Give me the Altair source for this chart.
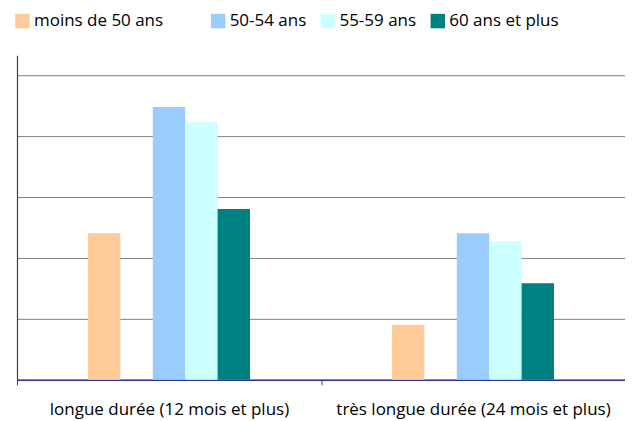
import altair as alt
import pandas as pd

groups = ["longue durée (12 mois et plus)", "très longue durée (24 mois et plus)"]
series = ["moins de 50 ans", " ", "50-54 ans", "55-59 ans", "60 ans et plus"]
colors = ["#FFCC99", "#FFFFFF", "#99CCFF", "#CCFFFF", "#008080"]
values = {
    "moins de 50 ans": [12.0, 4.5],
    " ": [0.0, 0.0],
    "50-54 ans": [22.35, 12.0],
    "55-59 ans": [21.1, 11.35],
    "60 ans et plus": [14.0, 7.9],
}
# empty slots on both sides of each group (spacing only)
offset_domain = ["_a", "_b"] + series + ["_c", "_d"]

rows = []
for s in series:
    for g, v in zip(groups, values[s]):
        rows.append({"groupe": g, "serie": s, "valeur": v})
df = pd.DataFrame(rows)

FONT = "Open Sans"

chart = alt.Chart(df).mark_bar().encode(
    x=alt.X("groupe:N", sort=groups, title=None,
            scale=alt.Scale(paddingInner=0, paddingOuter=0),
            axis=alt.Axis(labelAngle=0, domainColor="#333399", tickColor="#333399",
                          tickBand="extent", tickSize=5, labelPadding=17,
                          labelFontSize=17, labelFont=FONT, labelColor="#000000",
                          labelLimit=0, grid=False, domainWidth=1.5)),
    xOffset=alt.XOffset("serie:N",
                        scale=alt.Scale(domain=offset_domain, paddingInner=0, paddingOuter=0.19)),
    y=alt.Y("valeur:Q", title=None,
            scale=alt.Scale(domain=[0, 26.6], nice=False),
            axis=alt.Axis(values=[0, 5, 10, 15, 20, 25], labels=False, ticks=False,
                          gridColor="#808080", gridWidth=1, domainColor="#404040",
                          domainWidth=1.2)),
    color=alt.Color("serie:N", sort=series,
                    scale=alt.Scale(domain=series, range=colors),
                    legend=alt.Legend(title=None, orient="none", direction="horizontal",
                                      legendX=-3, legendY=-43,
                                      symbolType="square", symbolSize=210,
                                      symbolStrokeWidth=0, symbolOpacity=1,
                                      labelFont=FONT, labelFontSize=17,
                                      labelColor="#000000", labelOffset=3,
                                      columnPadding=13, labelLimit=0)),
).properties(
    width=609, height=325,
    autosize=alt.AutoSizeParams(type="none"),
    padding={"left": 9, "top": 47, "right": 0, "bottom": 42},
).configure_view(stroke=None)

chart.save("out.html", embed_options={"renderer": "svg", "actions": False})
